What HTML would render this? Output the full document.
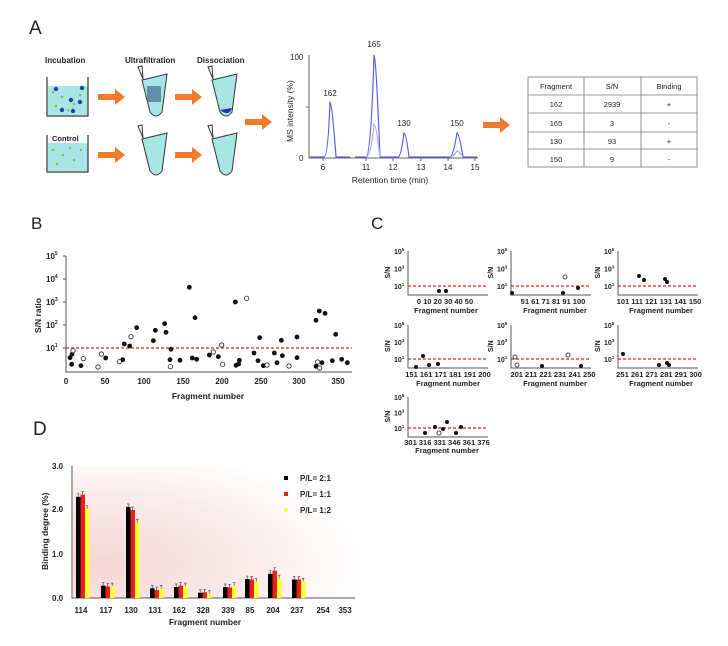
<!DOCTYPE html>
<html><head><meta charset="utf-8"><style>
html,body{margin:0;padding:0;background:#fff}
svg{display:block;font-family:"Liberation Sans",Arial,sans-serif}
</style></head><body>
<svg id="s" width="728" height="646" viewBox="0 0 728 646" xmlns="http://www.w3.org/2000/svg">
<defs>
<radialGradient id="pink" cx="0.1" cy="0.75" r="0.9">
<stop offset="0" stop-color="#f6d6d6"/><stop offset="0.6" stop-color="#fbecec"/><stop offset="1" stop-color="#ffffff"/>
</radialGradient>
</defs>
<text x="29" y="34" font-size="19" fill="#222">A</text>
<!-- panel A schematic -->
<g font-size="8" font-weight="bold" fill="#222">
<text x="45" y="63">Incubation</text>
<text x="125" y="63">Ultrafiltration</text>
<text x="197" y="63">Dissociation</text>
</g>
<rect x="48" y="86" width="40" height="29" fill="#a8e6e6"/>
<rect x="48" y="143" width="40" height="28" fill="#a8e6e6"/>
<g stroke="#333" stroke-width="1.2" fill="none">
<path d="M47 77 V116 H88 V77"/>
<path d="M47 135 V172 H88 V135"/>
</g>
<text x="52" y="141" font-size="7.5" font-weight="bold" fill="#222">Control</text>
<g fill="#8cbf4a"><circle cx="53" cy="92" r="1.3"/><circle cx="62" cy="97" r="1.3"/><circle cx="74" cy="104" r="1.3"/><circle cx="56" cy="106" r="1.3"/><circle cx="80" cy="95" r="1.3"/><circle cx="68" cy="110" r="1.3"/><circle cx="53" cy="150" r="1.3"/><circle cx="63" cy="155" r="1.3"/><circle cx="74" cy="160" r="1.3"/><circle cx="57" cy="164" r="1.3"/><circle cx="81" cy="150" r="1.3"/><circle cx="70" cy="148" r="1.3"/></g>
<g fill="#224499"><circle cx="56" cy="89" r="2.2"/><circle cx="71" cy="100" r="2.2"/><circle cx="80" cy="102" r="2.2"/><circle cx="62" cy="110" r="2.2"/><circle cx="82" cy="88" r="2.2"/><circle cx="73" cy="111" r="2.2"/></g>
<!-- tubes -->
<g stroke="#333" stroke-width="1" fill="#a8e6e6">
<path d="M142 80 l25 -6 l-5 38 q-6 8 -12 0 z"/>
<path d="M212 80 l25 -6 l-5 38 q-6 8 -12 0 z"/>
<path d="M142 139 l25 -6 l-5 38 q-6 8 -12 0 z"/>
<path d="M212 139 l25 -6 l-5 38 q-6 8 -12 0 z"/>
</g>
<g stroke="#333" fill="none"><path d="M143 79 l-5 -12 l4 -1 z"/><path d="M213 79 l-5 -12 l4 -1 z"/><path d="M143 138 l-5 -12 l4 -1 z"/><path d="M213 138 l-5 -12 l4 -1 z"/></g>
<rect x="147" y="86" width="14" height="16" fill="#335577" opacity="0.6"/>
<path d="M220 110 l12 -2 q-3 9 -12 2z" fill="#2233aa"/>
<!-- arrows -->
<g fill="#f07b2a">
<path d="M98 94 h17 v-5 l10 8 l-10 8 v-5 h-17z"/>
<path d="M175 94 h17 v-5 l10 8 l-10 8 v-5 h-17z"/>
<path d="M98 152 h17 v-5 l10 8 l-10 8 v-5 h-17z"/>
<path d="M175 152 h17 v-5 l10 8 l-10 8 v-5 h-17z"/>
<path d="M245 119 h17 v-5 l10 8 l-10 8 v-5 h-17z"/>
<path d="M483 122 h17 v-5 l10 8 l-10 8 v-5 h-17z"/>
</g>
<!-- chromatogram -->
<g stroke="#666" stroke-width="1" fill="none">
<path d="M309 55 V158 H478"/>
<path d="M306 107 h3"/>
<path d="M323 158 v3 M366 158 v3 M393 158 v3 M421 158 v3 M448 158 v3 M475 158 v3"/>
</g>
<g font-size="8" fill="#222">
<text x="290" y="60">100</text><text x="299" y="161">0</text>
<g text-anchor="middle"><text x="323" y="170">6</text><text x="366" y="170">11</text><text x="393" y="170">12</text><text x="421" y="170">13</text><text x="448" y="170">14</text><text x="475" y="170">15</text>
<text x="390" y="183" font-size="8.5">Retention time (min)</text>
<text x="330" y="96">162</text><text x="374" y="47">165</text><text x="404" y="126">130</text><text x="457" y="126">150</text></g>
<text transform="translate(293,142) rotate(-90)" font-size="8.5">MS intensity (%)</text>
</g>
<g stroke="#5a5ee0" stroke-width="1.2" fill="none">
<path d="M310 157 L324 157 Q328 157 330 102 Q332 102 336 157 L350 157"/>
<path d="M355 157 L366 157 Q371 157 374 55 Q376 55 380 157 L398 157 Q401 157 404 133 Q406 133 409 157 L450 157 Q453 157 457 133 Q459 133 463 157 L477 157"/>
<path d="M366 157 Q371 157 374 124 Q376 124 380 157" stroke="#a8abf0"/>
<path d="M450 157 Q453 157 457 151 Q459 151 463 157" stroke="#a8abf0"/>
</g>
<!-- table -->
<g stroke="#777" stroke-width="0.8" fill="none">
<rect x="528" y="77" width="169" height="90"/>
<path d="M528 95 H697 M528 113 H697 M528 132 H697 M528 149 H697 M584 77 V167 M641 77 V167"/>
</g>
<g font-size="7.5" fill="#222" text-anchor="middle">
<text x="556" y="89">Fragment</text><text x="612" y="89">S/N</text><text x="669" y="89">Binding</text>
<text x="556" y="107">162</text><text x="612" y="107">2939</text><text x="669" y="107">+</text>
<text x="556" y="126">165</text><text x="612" y="126">3</text><text x="669" y="126">-</text>
<text x="556" y="144">130</text><text x="612" y="144">93</text><text x="669" y="144">+</text>
<text x="556" y="162">150</text><text x="612" y="162">9</text><text x="669" y="162">-</text>
</g>
<!-- panel B -->
<text x="31" y="229" font-size="17" fill="#222">B</text>
<text x="371" y="229" font-size="17" fill="#222">C</text>
<g stroke="#555" stroke-width="1" fill="none">
<path d="M66 256 V372 H352"/>
<path d="M63 256 h3 M63 279 h3 M63 302 h3 M63 325 h3 M63 348 h3"/>
</g>
<line x1="66" y1="348" x2="352" y2="348" stroke="#e02020" stroke-width="1.2" stroke-dasharray="3,2"/>
<g font-size="8" font-weight="bold" fill="#222">
<text x="46" y="259">10<tspan font-size="5" dy="-4">5</tspan></text>
<text x="46" y="282">10<tspan font-size="5" dy="-4">4</tspan></text>
<text x="46" y="305">10<tspan font-size="5" dy="-4">3</tspan></text>
<text x="46" y="328">10<tspan font-size="5" dy="-4">2</tspan></text>
<text x="46" y="351">10<tspan font-size="5" dy="-4">1</tspan></text>
<g text-anchor="middle"><text x="66" y="384">0</text><text x="105" y="384">50</text><text x="144" y="384">100</text><text x="183" y="384">150</text><text x="222" y="384">200</text><text x="261" y="384">250</text><text x="299" y="384">300</text><text x="338" y="384">350</text>
<text x="208" y="399" font-size="8.5">Fragment number</text></g>
<text transform="translate(41,333) rotate(-90)" font-size="8.5">S/N ratio</text>
</g>
<g id="bdots"></g>
<!-- panel C -->
<g id="cplots"></g>
<g font-size="7.5" font-weight="bold" fill="#222" text-anchor="middle">
<text x="445" y="304">0 10 20 30 40 50</text><text x="446" y="313">Fragment number</text>
<text x="553" y="304">51 61 71 81 91 100</text><text x="555" y="313">Fragment number</text>
<text x="659" y="304">101 111 121 131 141 150</text><text x="661" y="313">Fragment number</text>
<text x="448" y="377">151 161 171 181 191 200</text><text x="448" y="386">Fragment number</text>
<text x="553" y="377">201 211 221 231 241 250</text><text x="555" y="386">Fragment number</text>
<text x="659" y="377">251 261 271 281 291 300</text><text x="661" y="386">Fragment number</text>
<text x="447" y="445">301 316 331 346 361 376</text><text x="447" y="453">Fragment number</text>
</g>
<!-- panel D -->
<rect x="73" y="466" width="290" height="132" fill="url(#pink)"/>
<text x="33" y="435" font-size="19" fill="#222">D</text>
<g stroke="#555" stroke-width="1" fill="none">
<path d="M72 466 V598 H355"/>
</g>
<g id="bars"></g>
<g font-size="8" font-weight="bold" fill="#222">
<text x="52" y="469">3.0</text><text x="52" y="512">2.0</text><text x="52" y="557">1.0</text><text x="52" y="601">0.0</text>
<g text-anchor="middle"><text x="81" y="613">114</text><text x="106" y="613">117</text><text x="131" y="613">130</text><text x="155" y="613">131</text><text x="179" y="613">162</text><text x="203" y="613">328</text><text x="228" y="613">339</text><text x="250" y="613">85</text><text x="273" y="613">204</text><text x="297" y="613">237</text><text x="323" y="613">254</text><text x="345" y="613">353</text>
<text x="205" y="625" font-size="8.5">Fragment number</text></g>
<text transform="translate(48,570) rotate(-90)" font-size="8.5">Binding degree (%)</text>
<text x="300" y="481">P/L= 2:1</text><text x="300" y="497">P/L= 1:1</text><text x="300" y="513">P/L= 1:2</text>
</g>
<rect x="284" y="476" width="4" height="4" fill="#000"/><rect x="284" y="492" width="4" height="4" fill="#e52020"/><rect x="284" y="508" width="4" height="4" fill="#ffff30"/>
<script>
var NS="http://www.w3.org/2000/svg";
function el(p,t,a){var e=document.createElementNS(NS,t);for(var k in a)e.setAttribute(k,a[k]);p.appendChild(e);return e;}
var bd=document.getElementById("bdots");
var f=[[210,383],[216,373],[215,403],[243,407],[317,384],[368,389],[373,342],[389,348],[410,293],[460,332],[466,301],[494,281],[498,307],[510,389],[513,358],[540,391],[568,172],[577,384],[585,263],[590,388],[628,375],[655,380],[706,216],[708,406],[716,402],[718,391],[762,369],[774,392],[779,323],[790,407],[823,369],[831,398],[844,331],[847,377],[891,321],[891,383],[948,409],[948,271],[958,243],[966,398],[975,250],[997,392],[1007,313],[1025,388],[1042,398]];
var o=[[219,362],[250,386],[294,411],[304,372],[358,395],[393,320],[511,410],[640,366],[665,345],[668,403],[740,205],[801,405],[867,408],[953,396],[959,414]];
f.forEach(function(p){el(bd,"circle",{cx:p[0]/3,cy:p[1]/3+230,r:2.4,fill:"#111"});});
o.forEach(function(p){el(bd,"circle",{cx:p[0]/3,cy:p[1]/3+230,r:2.2,fill:"#fff",stroke:"#222","stroke-width":0.8});});
var cp=document.getElementById("cplots");
var subs=[[408,251,295],[511,251,295],[618,251,295],[408,325,368],[511,325,368],[618,325,368],[408,397,437]];
subs.forEach(function(s){
 var x=s[0],t=s[1],b=s[2],h=b-t,d=(h-9)/2;
 el(cp,"path",{d:"M"+x+" "+t+" V"+b+" H"+(x+80),stroke:"#555",fill:"none","stroke-width":1});
 var y1=t+2*d;
 el(cp,"line",{x1:x,y1:y1,x2:x+80,y2:y1,stroke:"#e02020","stroke-width":1.2,"stroke-dasharray":"3,2"});
 [t,t+d,y1].forEach(function(yy,i){var tx=el(cp,"text",{x:x-14,y:yy+3,"font-size":7,"font-weight":"bold",fill:"#222"});tx.textContent="10";var ts=el(tx,"tspan",{"font-size":4.5,dy:-3});ts.textContent=["5","3","1"][i];});
 var lab=el(cp,"text",{transform:"translate("+(x-18)+","+(t+d+10)+") rotate(-90)","font-size":7,"font-weight":"bold",fill:"#222"});lab.textContent="S/N";
});
var cf=[[439,291],[446,291],[512,293],[563,293],[578,288],[639,276],[644,280],[665,279],[667,282],[416,367],[423,356],[429,365],[438,364],[542,366],[581,366],[623,354],[659,365],[667,363],[669,365],[425,433],[435,427],[443,429],[447,422],[456,433],[461,427]];
var co=[[565,277],[515,357],[517,365],[568,355],[439,433]];
cf.forEach(function(p){el(cp,"circle",{cx:p[0],cy:p[1],r:2,fill:"#111"});});
co.forEach(function(p){el(cp,"circle",{cx:p[0],cy:p[1],r:2,fill:"#fff",stroke:"#222","stroke-width":0.8});});
var bars=document.getElementById("bars");
var cx=[81,106,131,155,179,203,228,250,273,297,323,345];
var v=[[2.3,2.35,2.03],[.28,.26,.27],[2.07,2.0,1.72],[.22,.18,.22],[.25,.28,.27],[.12,.13,.10],[.25,.24,.28],[.43,.42,.37],[.55,.62,.45],[.42,.42,.38],[0,0,0],[0,0,0]];
var col=["#000","#e52020","#ffff30"];
cx.forEach(function(c,i){for(var j=0;j<3;j++){var val=v[i][j];if(!val)continue;var h=val*44;var x=c-5+j*4.5;
 el(bars,"rect",{x:x,y:598-h,width:4.5,height:h,fill:col[j]});
 el(bars,"line",{x1:x+2.2,y1:598-h,x2:x+2.2,y2:598-h-3,stroke:"#333","stroke-width":0.6});
 el(bars,"line",{x1:x+1,y1:598-h-3,x2:x+3.4,y2:598-h-3,stroke:"#333","stroke-width":0.6});}});
</script>
</svg>
</body></html>
